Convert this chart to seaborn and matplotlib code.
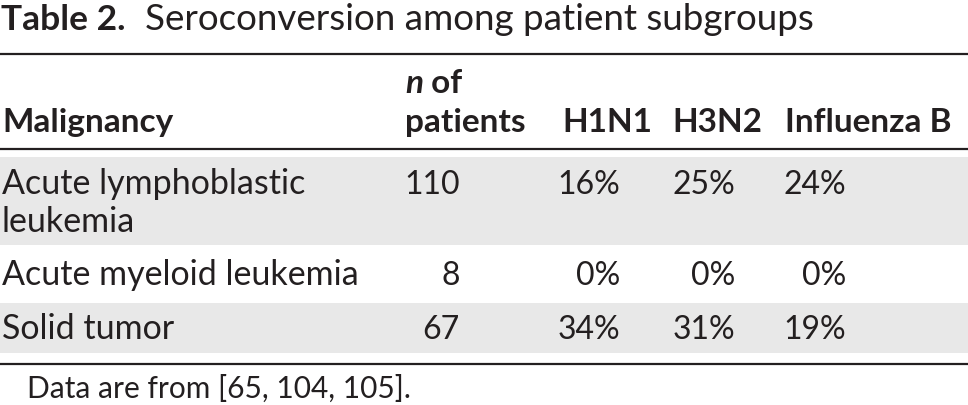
import matplotlib
matplotlib.use("Agg")
import matplotlib.pyplot as plt
import seaborn as sns

# ---- data ----
malignancy = ["Acute lymphoblastic\nleukemia", "Acute myeloid leukemia", "Solid tumor"]
n_patients = [110, 8, 67]
h1n1 = [16, 0, 34]
h3n2 = [25, 0, 31]
influenza_b = [24, 0, 19]
col_headers = ["Malignancy", "patients", "H1N1", "H3N2", "Influenza B"]
title_bold = "Table 2."
title_text = "Seroconversion among patient subgroups"
footnote = "Data are from [65, 104, 105]."

sns.set_theme(style="white")
plt.rcParams["font.family"] = ["Lato", "DejaVu Sans"]

W, H = 968, 406
fig = plt.figure(figsize=(W / 100, H / 100), dpi=100)
ax = fig.add_axes([0, 0, 1, 1])
ax.set_xlim(0, W)
ax.set_ylim(H, 0)
ax.axis("off")

TXT = "#231f20"
GRAY = "#e8e8e8"
FS_NUM = 23
FS_WORD = 24.5
FSH = 24
FS_FOOT = 21.5

# title
ax.text(1, 29.5, title_bold, fontsize=25.5, fontweight="bold", color=TXT, va="baseline", ha="left")
ax.text(145, 29.5, title_text, fontsize=26.5, color=TXT, va="baseline", ha="left")

# rules
for yy in (55, 150, 365):
    ax.plot([0, W], [yy, yy], color=TXT, lw=1.6, solid_capstyle="butt")

# shaded rows
row_spans = [(158, 246), (None, None), (304, 354)]
for (y0, y1) in row_spans:
    if y0 is not None:
        ax.fill_between([0, W], y0, y1, color=GRAY, lw=0, zorder=0)

# header
hb = 132
ax.text(2, hb, col_headers[0], fontsize=FSH, fontweight="bold", color=TXT, va="baseline")
tn = ax.text(405, 93, "n", fontsize=FSH, fontweight="bold", style="italic", color=TXT, va="baseline")
ax.annotate(" of", xy=(1, 0), xycoords=tn, fontsize=FSH, fontweight="bold", color=TXT, va="bottom", ha="left")
ax.text(405, hb, col_headers[1], fontsize=FSH, fontweight="bold", color=TXT, va="baseline")
ax.text(562, hb, col_headers[2], fontsize=FSH, fontweight="bold", color=TXT, va="baseline")
ax.text(672, hb, col_headers[3], fontsize=FSH, fontweight="bold", color=TXT, va="baseline")
ax.text(785, hb, col_headers[4], fontsize=FSH, fontweight="bold", color=TXT, va="baseline")

# body
baselines = [194, 285, 339]
right_x = [460, 620, 735, 846]
for i, name in enumerate(malignancy):
    yb = baselines[i]
    lines = name.split("\n")
    for k, ln in enumerate(lines):
        ax.text(2, yb + 38 * k, ln, fontsize=FS_WORD, color=TXT, va="baseline")
    vals = [str(n_patients[i]), f"{h1n1[i]}%", f"{h3n2[i]}%", f"{influenza_b[i]}%"]
    for x, v in zip(right_x, vals):
        ax.text(x, yb, v, fontsize=FS_NUM, color=TXT, va="baseline", ha="right")

ax.text(27, 398, footnote, fontsize=FS_FOOT, color=TXT, va="baseline")

fig.savefig("out.png", dpi=100)
